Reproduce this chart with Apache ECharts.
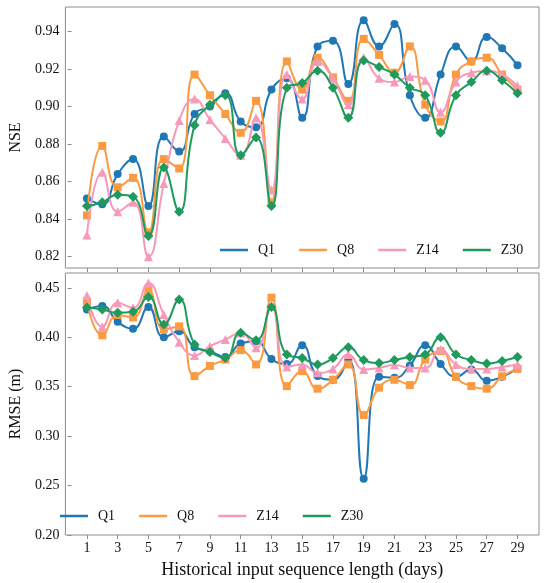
<!DOCTYPE html>
<html>
<head>
<meta charset="utf-8">
<script src="https://cdn.jsdelivr.net/npm/echarts@6/dist/echarts.min.js"></script>
<style>
  html, body { margin: 0; padding: 0; background: #fff; }
  #chart { width: 550px; height: 583px; }
</style>
</head>
<body>
<div id="chart"></div>
<script>
// input sequence length (days)
var days = [];
for (var d = 1; d <= 29; d++) days.push(d);
var dayTicks = [1, 3, 5, 7, 9, 11, 13, 15, 17, 19, 21, 23, 25, 27, 29];

var seriesNames = ['Q1', 'Q8', 'Z14', 'Z30'];

// NSE (top panel)
var nseQ1  = [0.851, 0.848, 0.864, 0.872, 0.847, 0.884, 0.876, 0.896, 0.900, 0.907, 0.892, 0.889, 0.909, 0.915, 0.894,
              0.932, 0.935, 0.912, 0.946, 0.932, 0.944, 0.906, 0.894, 0.917, 0.932, 0.924, 0.937, 0.931, 0.922];
var nseQ8  = [0.842, 0.879, 0.857, 0.862, 0.833, 0.872, 0.867, 0.917, 0.906, 0.896, 0.886, 0.903, 0.849, 0.924, 0.909,
              0.926, 0.9155, 0.903, 0.936, 0.9275, 0.918, 0.932, 0.901, 0.892, 0.917, 0.924, 0.926, 0.917, 0.909];
var nseZ14 = [0.8316, 0.865, 0.844, 0.849, 0.820, 0.859, 0.8925, 0.904, 0.893, 0.883, 0.874, 0.894, 0.8556, 0.917, 0.904,
              0.924, 0.915, 0.901, 0.926, 0.915, 0.913, 0.916, 0.914, 0.897, 0.913, 0.918, 0.919, 0.917, 0.911];
var nseZ30 = [0.847, 0.849, 0.853, 0.852, 0.831, 0.8675, 0.844, 0.890, 0.901, 0.906, 0.874, 0.8835, 0.847, 0.910, 0.9125,
              0.919, 0.910, 0.894, 0.9245, 0.921, 0.917, 0.910, 0.906, 0.886, 0.906, 0.913, 0.919, 0.914, 0.907];
var nseTicks = [0.82, 0.84, 0.86, 0.88, 0.90, 0.92, 0.94];

// RMSE in metres (bottom panel)
var rmseQ1  = [0.428, 0.4315, 0.4156, 0.4086, 0.4305, 0.400, 0.406, 0.390, 0.386, 0.380, 0.3937, 0.396, 0.378, 0.373, 0.392,
               0.3607, 0.357, 0.3775, 0.257, 0.360, 0.359, 0.3715, 0.392, 0.373, 0.360, 0.3675, 0.356, 0.360, 0.369];
var rmseQ8  = [0.436, 0.402, 0.4225, 0.420, 0.4476, 0.408, 0.411, 0.3607, 0.371, 0.3775, 0.387, 0.3725, 0.440, 0.3506, 0.3658,
               0.348, 0.357, 0.3725, 0.3213, 0.349, 0.357, 0.3516, 0.3775, 0.386, 0.360, 0.3506, 0.348, 0.3605, 0.368];
var rmseZ14 = [0.4423, 0.4106, 0.4348, 0.4298, 0.455, 0.423, 0.395, 0.3816, 0.391, 0.3978, 0.4045, 0.3894, 0.431, 0.370, 0.3725,
               0.364, 0.368, 0.3826, 0.3675, 0.369, 0.372, 0.369, 0.369, 0.3877, 0.3725, 0.368, 0.368, 0.370, 0.3725];
var rmseZ30 = [0.430, 0.428, 0.4247, 0.4257, 0.4406, 0.413, 0.4382, 0.3927, 0.385, 0.379, 0.4045, 0.397, 0.4305, 0.3826, 0.379,
               0.3725, 0.379, 0.390, 0.377, 0.374, 0.377, 0.380, 0.3826, 0.400, 0.3826, 0.377, 0.3735, 0.376, 0.380];
var rmseTicks = [0.20, 0.25, 0.30, 0.35, 0.40, 0.45];

var colors  = ['#1f77b4', '#fb9a40', '#f799b8', '#1f9a5c'];
var symbols = ['circle', 'rect', 'triangle', 'diamond'];
var symSize = [8, 8, 9, 10];

var FONT = 'Liberation Serif';
var FRAME = '#8c8c8c';

function pairs(vals) {
  return days.map(function (d, i) { return [d, vals[i]]; });
}

function makeSeries(name, vals, idx, panel) {
  return {
    name: name,
    type: 'line',
    xAxisIndex: panel,
    yAxisIndex: panel,
    data: pairs(vals),
    smooth: 0.5,
    symbol: symbols[idx],
    symbolSize: symSize[idx],
    showSymbol: true,
    lineStyle: { width: 2, color: colors[idx] },
    itemStyle: { color: colors[idx] },
    z: 2 + idx
  };
}

function xAxisFor(panel, withLabels) {
  return {
    type: 'value', gridIndex: panel, min: -0.4, max: 30.4,
    splitLine: { show: false },
    axisLine: { show: false },
    axisTick: { show: true, customValues: dayTicks, length: 4, lineStyle: { color: FRAME } },
    axisLabel: {
      show: withLabels, customValues: dayTicks, margin: 6,
      fontFamily: FONT, fontSize: 14, color: '#111'
    },
    name: withLabels ? 'Historical input sequence length (days)' : '',
    nameLocation: 'middle', nameGap: 26,
    nameTextStyle: { fontFamily: FONT, fontSize: 18, color: '#111' }
  };
}

function yAxisFor(panel, name, min, max, ticks) {
  return {
    type: 'value', gridIndex: panel, min: min, max: max,
    splitLine: { show: false },
    axisLine: { show: false },
    axisTick: { show: true, customValues: ticks, length: 4, lineStyle: { color: FRAME } },
    axisLabel: {
      customValues: ticks, margin: 6,
      fontFamily: FONT, fontSize: 14, color: '#111',
      formatter: function (v) { return v.toFixed(2); }
    },
    name: name, nameLocation: 'middle', nameGap: 36,
    nameTextStyle: { fontFamily: FONT, fontSize: 16, color: '#111' }
  };
}

function legendAt(left, top) {
  return {
    data: seriesNames, left: left, top: top, orient: 'horizontal',
    icon: 'rect', itemWidth: 28, itemHeight: 2.5, itemGap: 24,
    padding: 0,
    textStyle: { fontFamily: FONT, fontSize: 14, color: '#111', padding: [0, 0, 0, 5] }
  };
}

var chart = echarts.init(document.getElementById('chart'));

var series = [];
[nseQ1, nseQ8, nseZ14, nseZ30].forEach(function (v, i) { series.push(makeSeries(seriesNames[i], v, i, 0)); });
[rmseQ1, rmseQ8, rmseZ14, rmseZ30].forEach(function (v, i) { series.push(makeSeries(seriesNames[i], v, i, 1)); });

chart.setOption({
  animation: false,
  backgroundColor: '#fff',
  grid: [
    { left: 48, top: 7, right: 11, height: 261, show: true, borderColor: FRAME, borderWidth: 1, backgroundColor: 'transparent' },
    { left: 48, top: 273, right: 11, height: 262, show: true, borderColor: FRAME, borderWidth: 1, backgroundColor: 'transparent' }
  ],
  legend: [legendAt(220, 243), legendAt(60, 509)],
  xAxis: [xAxisFor(0, false), xAxisFor(1, true)],
  yAxis: [
    yAxisFor(0, 'NSE', 0.814, 0.953, nseTicks),
    yAxisFor(1, 'RMSE (m)', 0.20, 0.465, rmseTicks)
  ],
  series: series
});
</script>
</body>
</html>
